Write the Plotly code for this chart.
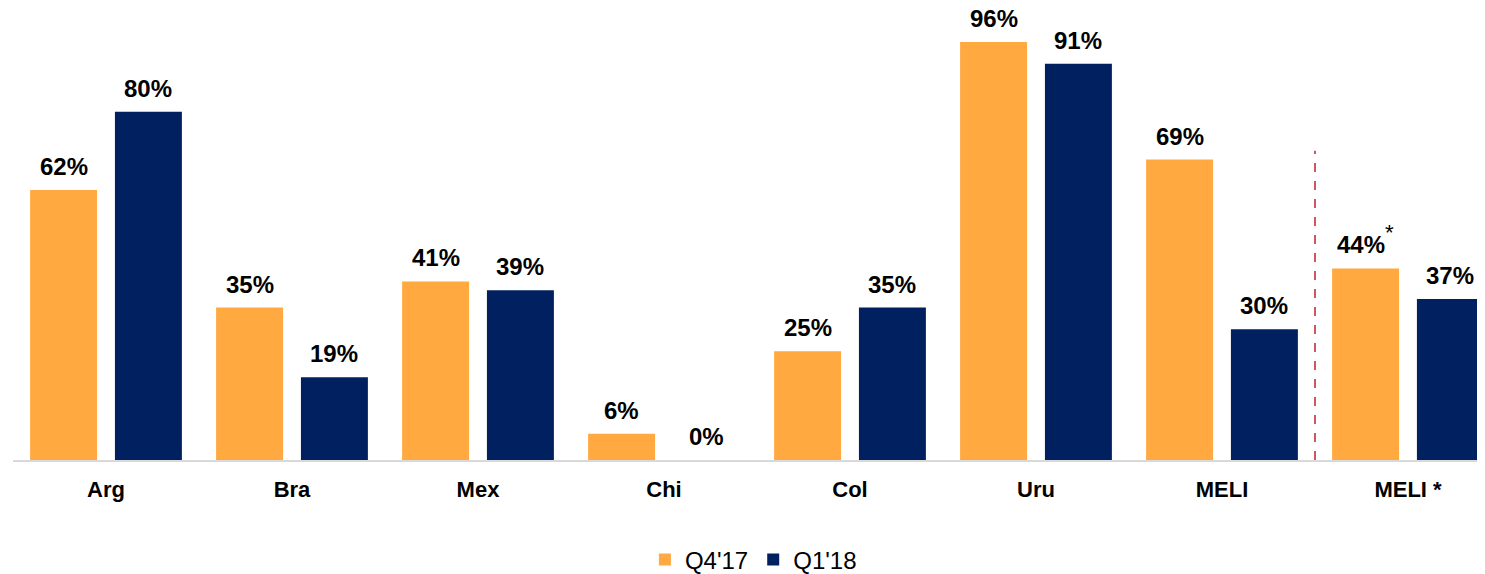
import plotly.graph_objects as go

categories = ["Arg", "Bra", "Mex", "Chi", "Col", "Uru", "MELI", "MELI *"]
q4_17 = [62, 35, 41, 6, 25, 96, 69, 44]
q1_18 = [80, 19, 39, 0, 35, 91, 30, 37]
q4_labels = ["62%", "35%", "41%", "6%", "25%", "96%", "69%",
             "44%<span style='font-size:32px;font-weight:normal'><sup>*</sup></span>"]
q1_labels = ["80%", "19%", "39%", "0%", "35%", "91%", "30%", "37%"]
series_names = ["Q4'17", "Q1'18"]

ORANGE = "#FFA940"
NAVY = "#00205F"
FONT = "Liberation Sans, Arial, sans-serif"

x_idx = list(range(len(categories)))
bar_w = 0.36
off_orange = -0.408
off_navy = 0.048

fig = go.Figure()
fig.add_trace(go.Bar(x=x_idx, y=q4_17, name=series_names[0], marker_color=ORANGE,
                     width=bar_w, offset=off_orange, marker_line_width=0))
fig.add_trace(go.Bar(x=x_idx, y=q1_18, name=series_names[1], marker_color=NAVY,
                     width=bar_w, offset=off_navy, marker_line_width=0))

annotations = []
for i, (v, t) in enumerate(zip(q4_17, q4_labels)):
    annotations.append(dict(x=i + off_orange + bar_w / 2, y=v, text="<b>" + t + "</b>",
                            showarrow=False, yanchor="bottom", yshift=9, borderpad=0,
                            font=dict(family=FONT, size=24, color="black")))
for i, (v, t) in enumerate(zip(q1_18, q1_labels)):
    annotations.append(dict(x=i + off_navy + bar_w / 2, y=v, text="<b>" + t + "</b>",
                            showarrow=False, yanchor="bottom", yshift=9, borderpad=0,
                            font=dict(family=FONT, size=24, color="black")))

fig.add_shape(type="line", x0=6.5, x1=6.5, y0=0, y1=71, xref="x", yref="y",
              line=dict(color="#C0202A", width=1.5, dash="dash"))

fig.update_layout(
    template="none",
    width=1477, height=566,
    margin=dict(l=5, r=0, t=0, b=114, pad=0),
    plot_bgcolor="white", paper_bgcolor="white",
    barmode="group",
    annotations=annotations,
    showlegend=True,
    legend=dict(orientation="h", x=0.503, xanchor="center",
                yref="container", y=0.025, yanchor="middle",
                font=dict(family=FONT, size=24, color="black"),
                itemwidth=30, traceorder="normal", bgcolor="rgba(0,0,0,0)"),
    xaxis=dict(tickmode="array", tickvals=x_idx,
               ticktext=["<b>" + c + "</b>" for c in categories],
               range=[-0.5, 7.414], showgrid=False, zeroline=False, automargin=False,
               showline=True, linecolor="#D9D9D9", linewidth=1.5,
               ticks="outside", ticklen=9, tickcolor="rgba(0,0,0,0)",
               tickfont=dict(family=FONT, size=22, color="black")),
    yaxis=dict(range=[0, 103.8], visible=False, showgrid=False, zeroline=False,
               automargin=False),
)

fig.write_html("out.html")
